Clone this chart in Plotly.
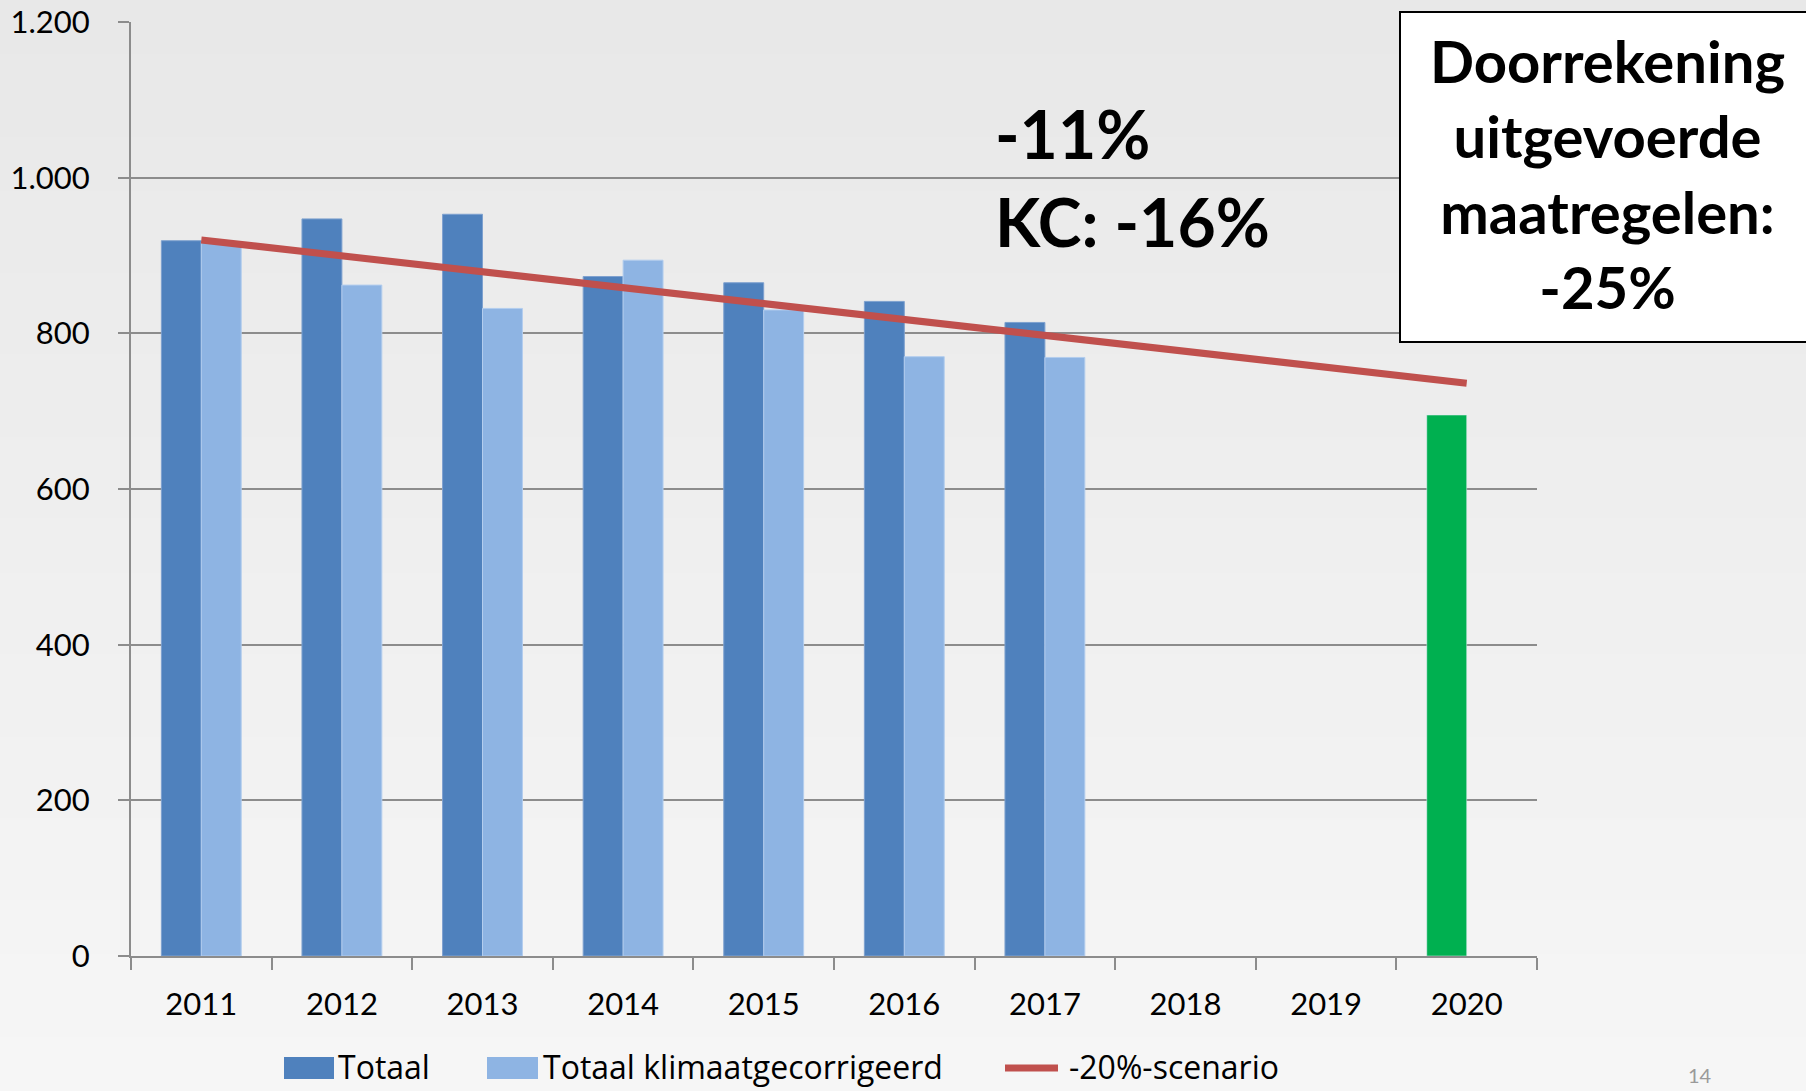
import plotly.graph_objects as go

years = ["2011", "2012", "2013", "2014", "2015", "2016", "2017", "2018", "2019", "2020"]
totaal = [919, 947, 953, 873, 865, 841, 814, None, None, None]
totaal_kc = [917, 862, 832, 894, 830, 770, 769, None, None, None]
prognose_year = ["2020"]
prognose_value = [695]
scenario_years = ["2011", "2020"]
scenario_values = [920, 736]
y_ticks = [0, 200, 400, 600, 800, 1000, 1200]

W, H = 1806, 1091
L, R, T, B = 131, 269, 22, 135
PW, PH = W - L - R, H - T - B

def px(x):
    return (x - L) / PW

def py(y):
    return (H - B - y) / PH

FONT = "Lato"
LEG_FONT = "Open Sans"
GRID = "#8c8c8c"

fig = go.Figure()
fig.add_trace(go.Bar(x=years, y=totaal, name="Totaal", marker_color="#4f81bd",
                     marker_line=dict(color="#7ea1cf", width=1), offsetgroup="a"))
fig.add_trace(go.Bar(x=years, y=totaal_kc, name="Totaal klimaatgecorrigeerd", marker_color="#8eb4e3",
                     marker_line=dict(color="#b3cdee", width=1), offsetgroup="b"))
fig.add_trace(go.Bar(x=prognose_year, y=prognose_value, name="Doorrekening", marker_color="#00b050",
                     offsetgroup="a", showlegend=False))
fig.add_trace(go.Scatter(x=scenario_years, y=scenario_values, name="-20%-scenario", mode="lines",
                         line=dict(color="#c0504d", width=7)))

shapes = []
# background gradient
n = 40
top_c = (0xe8, 0xe8, 0xe8)
bot_c = (0xf6, 0xf6, 0xf6)
for i in range(n):
    t = i / (n - 1)
    c = tuple(round(top_c[k] + (bot_c[k] - top_c[k]) * t) for k in range(3))
    y0 = H * i / n
    y1 = H * (i + 1) / n + 1
    shapes.append(dict(type="rect", xref="paper", yref="paper", layer="below",
                       x0=px(-5), x1=px(W + 5), y0=py(y1), y1=py(y0),
                       fillcolor="rgb(%d,%d,%d)" % c, line=dict(width=0)))
# text box
shapes.append(dict(type="rect", xref="paper", yref="paper", layer="above",
                   x0=px(1400), x1=px(1830), y0=py(342), y1=py(12),
                   fillcolor="white", line=dict(color="black", width=2)))
# custom legend
LEG_Y = 1068
shapes.append(dict(type="rect", xref="paper", yref="paper", x0=px(284), x1=px(334),
                   y0=py(LEG_Y + 11), y1=py(LEG_Y - 11), fillcolor="#4f81bd", line=dict(width=0)))
shapes.append(dict(type="rect", xref="paper", yref="paper", x0=px(487), x1=px(538),
                   y0=py(LEG_Y + 11), y1=py(LEG_Y - 11), fillcolor="#8eb4e3", line=dict(width=0)))
shapes.append(dict(type="line", xref="paper", yref="paper", x0=px(1005), x1=px(1058),
                   y0=py(LEG_Y), y1=py(LEG_Y), line=dict(color="#c0504d", width=7)))

annotations = [
    dict(text="<b>-11%</b>", x=px(993), y=py(133), xref="paper", yref="paper",
         xanchor="left", yanchor="middle", showarrow=False, font=dict(size=66, color="black", family=FONT)),
    dict(text="<b>KC: -16%</b>", x=px(993), y=py(222), xref="paper", yref="paper",
         xanchor="left", yanchor="middle", showarrow=False, font=dict(size=66, color="black", family=FONT)),
    dict(text="<b>Doorrekening<br>uitgevoerde<br>maatregelen:<br>-25%</b>", x=px(1608), y=py(173),
         xref="paper", yref="paper", xanchor="center", yanchor="middle", align="center", showarrow=False,
         font=dict(size=58, color="black", family=FONT)),
    dict(text="Totaal", x=px(336), y=py(LEG_Y - 2), xref="paper", yref="paper", xanchor="left",
         yanchor="middle", showarrow=False, font=dict(size=32, color="black", family=LEG_FONT)),
    dict(text="Totaal klimaatgecorrigeerd", x=px(541), y=py(LEG_Y - 2), xref="paper", yref="paper", xanchor="left",
         yanchor="middle", showarrow=False, font=dict(size=32, color="black", family=LEG_FONT)),
    dict(text="-20%-scenario", x=px(1067), y=py(LEG_Y - 2), xref="paper", yref="paper", xanchor="left",
         yanchor="middle", showarrow=False, font=dict(size=32, color="black", family=LEG_FONT)),
    dict(text="14", x=px(1700), y=py(1075), xref="paper", yref="paper", xanchor="center",
         yanchor="middle", showarrow=False, font=dict(size=20, color="#9a9a9a", family=FONT)),
]

fig.update_layout(
    width=W, height=H,
    margin=dict(l=L, r=R, t=T, b=B, pad=0, autoexpand=False),
    paper_bgcolor="#efefef",
    plot_bgcolor="rgba(0,0,0,0)",
    barmode="group", bargap=0.432, bargroupgap=0,
    showlegend=False,
    separators=",.",
    font=dict(family=FONT, size=31, color="black"),
    shapes=shapes,
    annotations=annotations,
    xaxis=dict(type="category", categoryorder="array", categoryarray=years, automargin=False,
               showgrid=False, showline=True, linecolor=GRID, linewidth=2,
               ticks="outside", tickson="boundaries", ticklen=12, tickwidth=2, tickcolor=GRID,
               tickfont=dict(size=31, family=FONT), ticklabelstandoff=20, zeroline=False),
    yaxis=dict(range=[0, 1200], tickvals=y_ticks, tickformat=",d", automargin=False,
               showgrid=True, gridcolor=GRID, gridwidth=2,
               showline=True, linecolor=GRID, linewidth=2,
               ticks="outside", ticklen=11, tickwidth=2, tickcolor=GRID,
               tickfont=dict(size=31, family=FONT), ticklabelstandoff=22, zeroline=False),
)

fig.write_html("out.html", config={"displayModeBar": False},
               post_script="document.body.style.margin='0px';document.body.style.overflow='hidden';document.body.style.background='#efefef';")
